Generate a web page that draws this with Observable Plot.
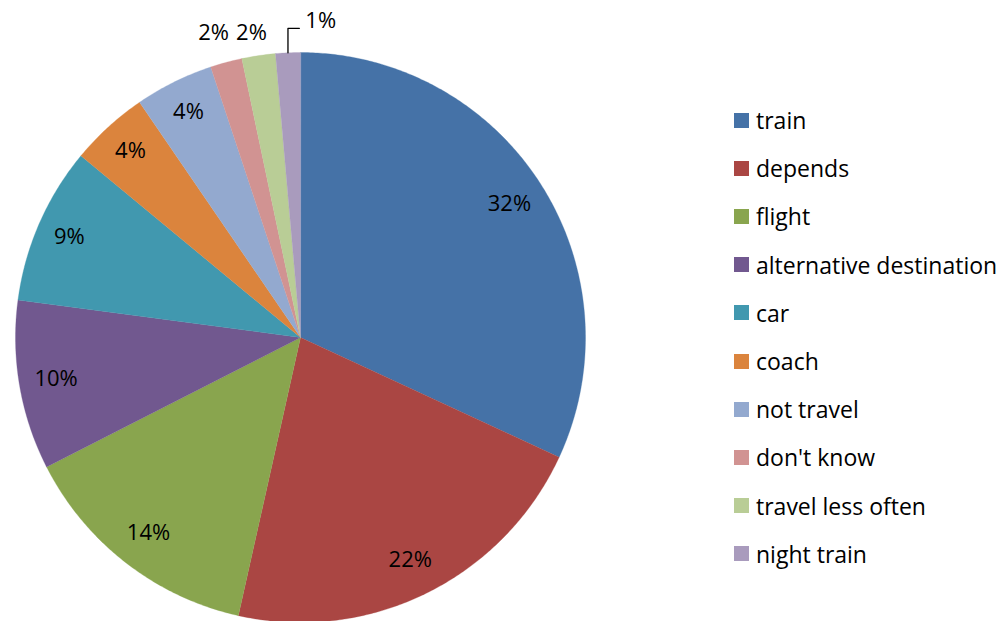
<!DOCTYPE html>
<html>
<head>
<meta charset="utf-8">
<script src="https://cdn.jsdelivr.net/npm/d3@7"></script>
<script src="https://cdn.jsdelivr.net/npm/@observablehq/plot@0.6"></script>
<style>
  html, body { margin: 0; padding: 0; background: #fff; }
  #wrap { position: relative; width: 1003px; height: 621px; overflow: hidden; font-family: "Open Sans", Lato, sans-serif; }
  #chart { position: absolute; left: 0; top: 0; }
  #legend { position: absolute; left: 734px; top: 96px; }
  .row { display: flex; align-items: center; height: 48.2px; font-size: 23px; color: #000; white-space: nowrap; }
  .sw { width: 15px; height: 15px; margin-right: 7px; flex: none; }
</style>
</head>
<body>
<div id="wrap"><div id="chart"></div><div id="legend"></div></div>
<script>
const categories = ["train", "depends", "flight", "alternative destination", "car", "coach", "not travel", "don't know", "travel less often", "night train"];
const values = [31.9, 21.6, 14.0, 9.6, 8.9, 4.45, 4.45, 1.8, 1.9, 1.4];
const colors = ["#4572A7", "#AA4643", "#89A54E", "#71588F", "#4198AF", "#DB843D", "#93A9CF", "#D19392", "#B9CD96", "#A99BBD"];

const total = d3.sum(values);
const slices = [];
let acc = 0;
categories.forEach((key, i) => {
  const a0 = acc / total * 2 * Math.PI;
  acc += values[i];
  const a1 = acc / total * 2 * Math.PI;
  slices.push({key, value: values[i], a0, a1, mid: (a0 + a1) / 2, label: Math.round(values[i] / total * 100) + "%"});
});

// polygon outline for each slice (angle measured clockwise from top)
const pt = (a, r) => ({x: r * Math.sin(a), y: r * Math.cos(a)});
const poly = [];
for (const s of slices) {
  poly.push({key: s.key, ...pt(0, 0)});
  const n = Math.max(2, Math.ceil((s.a1 - s.a0) / (Math.PI / 360)));
  for (let k = 0; k <= n; k++) poly.push({key: s.key, ...pt(s.a0 + (s.a1 - s.a0) * k / n, 1)});
}

// labels
const inside = slices.filter(s => s.value >= 3).map(s => ({...s, ...pt(s.mid, s.value < 9 ? 0.885 : 0.87)}));
const outside = slices.filter(s => s.value < 3 && s.value >= 1.5).map(s => ({...s, x: 1.17 * Math.sin(s.mid), y: 1.07}));
const leadered = slices.filter(s => s.value < 1.5);
const leaderLines = [];
const leaderLabels = [];
for (const s of leadered) {
  const p0 = pt(s.mid, 1);
  const p1 = {x: p0.x, y: 1.085};
  const p2 = {x: p0.x + 0.04, y: 1.085};
  leaderLines.push({key: s.key, ...p0}, {key: s.key, ...p1}, {key: s.key, ...p2});
  leaderLabels.push({...s, ...p2});
}

const R = 285, cx = 300, cy = 337;
const chart = Plot.plot({
  width: 1003,
  height: 621,
  margin: 0,
  x: {domain: [-1, 1], range: [cx - R, cx + R], axis: null},
  y: {domain: [-1, 1], range: [cy + R, cy - R], axis: null},
  color: {domain: categories, range: colors},
  style: {fontFamily: "'Open Sans', Lato, sans-serif", background: "#fff"},
  marks: [
    Plot.line(poly, {x: "x", y: "y", z: "key", fill: "key", stroke: "key", strokeWidth: 0.3, curve: "linear-closed"}),
    Plot.text(inside, {x: "x", y: "y", text: "label", fontSize: 22, fill: "#000"}),
    Plot.text(outside, {x: "x", y: "y", text: "label", fontSize: 22, fill: "#000"}),
    Plot.line(leaderLines, {x: "x", y: "y", z: "key", stroke: "#000", strokeWidth: 1.3}),
    Plot.text(leaderLabels, {x: "x", y: "y", text: "label", fontSize: 22, fill: "#000", textAnchor: "start", dx: 6, dy: -7})
  ]
});
document.getElementById("chart").appendChild(chart);

const legend = document.getElementById("legend");
categories.forEach((c, i) => {
  const row = document.createElement("div");
  row.className = "row";
  const sw = document.createElement("span");
  sw.className = "sw";
  sw.style.background = colors[i];
  const t = document.createElement("span");
  t.textContent = c;
  row.appendChild(sw);
  row.appendChild(t);
  legend.appendChild(row);
});
</script>
</body>
</html>
